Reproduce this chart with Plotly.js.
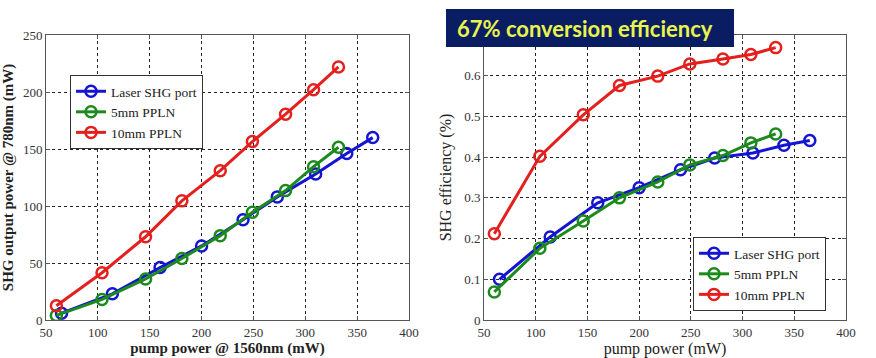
<!DOCTYPE html>
<html>
<head>
<meta charset="utf-8">
<script src="https://cdn.plot.ly/plotly-3.0.1.min.js"></script>
<style>html,body{margin:0;padding:0;background:#fff;}#chart{width:876px;height:358px;}</style>
</head>
<body>
<div id="chart"></div>
<script>
// Left chart: SHG output power (mW) vs pump power @1560nm (mW)
const seriesNames = ["Laser SHG port", "5mm PPLN", "10mm PPLN"];
const laserX = [65, 114, 160, 200, 240, 273, 310, 340, 365];
const laserPower = [6, 23, 46, 65, 88, 108, 128, 146, 160];
const pplnX = [60, 104, 146, 181, 218, 249, 281, 308, 332];
const ppln5Power = [4, 18, 36, 54, 74, 94.5, 113.5, 134.5, 151.5];
const ppln10Power = [12.5, 41.5, 73, 104.5, 131, 156.5, 180.5, 202, 222];
// Right chart: SHG efficiency (%) vs pump power (mW)
const laserEff = [0.100, 0.204, 0.288, 0.325, 0.369, 0.398, 0.410, 0.429, 0.441];
const ppln5Eff = [0.069, 0.176, 0.243, 0.300, 0.339, 0.381, 0.404, 0.435, 0.457];
const ppln10Eff = [0.212, 0.402, 0.504, 0.576, 0.599, 0.629, 0.641, 0.652, 0.669];
const xTicks = [50, 100, 150, 200, 250, 300, 350, 400];
const leftYTicks = [0, 50, 100, 150, 200, 250];
const rightYTicks = [0, 0.1, 0.2, 0.3, 0.4, 0.5, 0.6];
const bannerText = "67% conversion efficiency";

const colors = ["#1414d2", "#1d8a1d", "#e3201e"];
const W = 876, H = 358;
const SERIF = "Liberation Serif";

function tr(x, y, i, xa, ya, leg) {
  return {
    x: x, y: y, name: seriesNames[i], type: "scatter", mode: "lines+markers",
    xaxis: xa, yaxis: ya, legend: leg, showlegend: true,
    line: {color: colors[i], width: 3},
    marker: {symbol: "circle-open", size: 11, color: colors[i], line: {width: 2.5, color: colors[i]}}
  };
}

const data = [
  tr(laserX, laserPower, 0, "x", "y", "legend"),
  tr(pplnX, ppln5Power, 1, "x", "y", "legend"),
  tr(pplnX, ppln10Power, 2, "x", "y", "legend"),
  tr(laserX, laserEff, 0, "x2", "y2", "legend2"),
  tr(pplnX, ppln5Eff, 1, "x2", "y2", "legend2"),
  tr(pplnX, ppln10Eff, 2, "x2", "y2", "legend2")
];

const tickFont = {family: SERIF, size: 13, color: "#333"};
const axBase = {
  showline: true, mirror: "all", linecolor: "#555", linewidth: 1,
  ticks: "inside", ticklen: 4, tickcolor: "#555",
  showgrid: true, gridcolor: "#222", griddash: "dot", gridwidth: 1,
  zeroline: false, tickfont: tickFont, automargin: false, fixedrange: true
};

const yBottom = (H - 320) / H, yTop = (H - 35) / H;
const legendFont = {family: SERIF, size: 13.5, color: "#222"};

const layout = {
  width: W, height: H,
  margin: {l: 0, r: 0, t: 0, b: 0},
  paper_bgcolor: "#fff", plot_bgcolor: "#fff",
  font: {family: SERIF, color: "#222"},
  xaxis: Object.assign({}, axBase, {
    domain: [46 / W, 409 / W], range: [50, 400], tickvals: xTicks, ticktext: xTicks.map(String),
    anchor: "y",
    title: {text: "<b>pump power @ 1560nm (mW)</b>", font: {family: SERIF, size: 15, color: "#222"}, standoff: 2}
  }),
  yaxis: Object.assign({}, axBase, {
    domain: [yBottom, yTop], range: [0, 250], tickvals: leftYTicks, ticktext: leftYTicks.map(String),
    anchor: "x",
    title: {text: "<b>SHG output power @ 780nm (mW)</b>", font: {family: SERIF, size: 15, color: "#222"}, standoff: 8}
  }),
  xaxis2: Object.assign({}, axBase, {
    domain: [484 / W, 846 / W], range: [50, 400], tickvals: xTicks, ticktext: xTicks.map(String),
    anchor: "y2",
    title: {text: "pump power (mW)", font: {family: SERIF, size: 16, color: "#222"}, standoff: 2}
  }),
  yaxis2: Object.assign({}, axBase, {
    domain: [yBottom, yTop], range: [0, 0.7], tickvals: rightYTicks, ticktext: rightYTicks.map(String),
    anchor: "x2",
    title: {text: "SHG efficiency (%)", font: {family: SERIF, size: 16, color: "#222"}, standoff: 8}
  }),
  legend: {
    x: 70 / W, y: 1 - 75 / H, xanchor: "left", yanchor: "top",
    bgcolor: "#fff", bordercolor: "#333", borderwidth: 1,
    font: legendFont, tracegroupgap: 0, itemwidth: 30
  },
  legend2: {
    x: 693 / W, y: 1 - 237 / H, xanchor: "left", yanchor: "top",
    bgcolor: "#fff", bordercolor: "#333", borderwidth: 1,
    font: legendFont, tracegroupgap: 0, itemwidth: 30
  },
  shapes: [{
    type: "rect", xref: "paper", yref: "paper",
    x0: 446 / W, x1: 734 / W, y0: 1 - 47 / H, y1: 1 - 9 / H,
    fillcolor: "#0b1d62", line: {width: 0}, layer: "above"
  }],
  annotations: [{
    xref: "paper", yref: "paper", x: 455 / W, y: 1 - 28 / H, xanchor: "left", yanchor: "middle",
    text: "<b>" + bannerText + "</b>", showarrow: false,
    font: {family: "Lato", size: 22, color: "#e9f54c"}
  }]
};

Plotly.newPlot("chart", data, layout, {staticPlot: true, displayModeBar: false});
</script>
</body>
</html>
